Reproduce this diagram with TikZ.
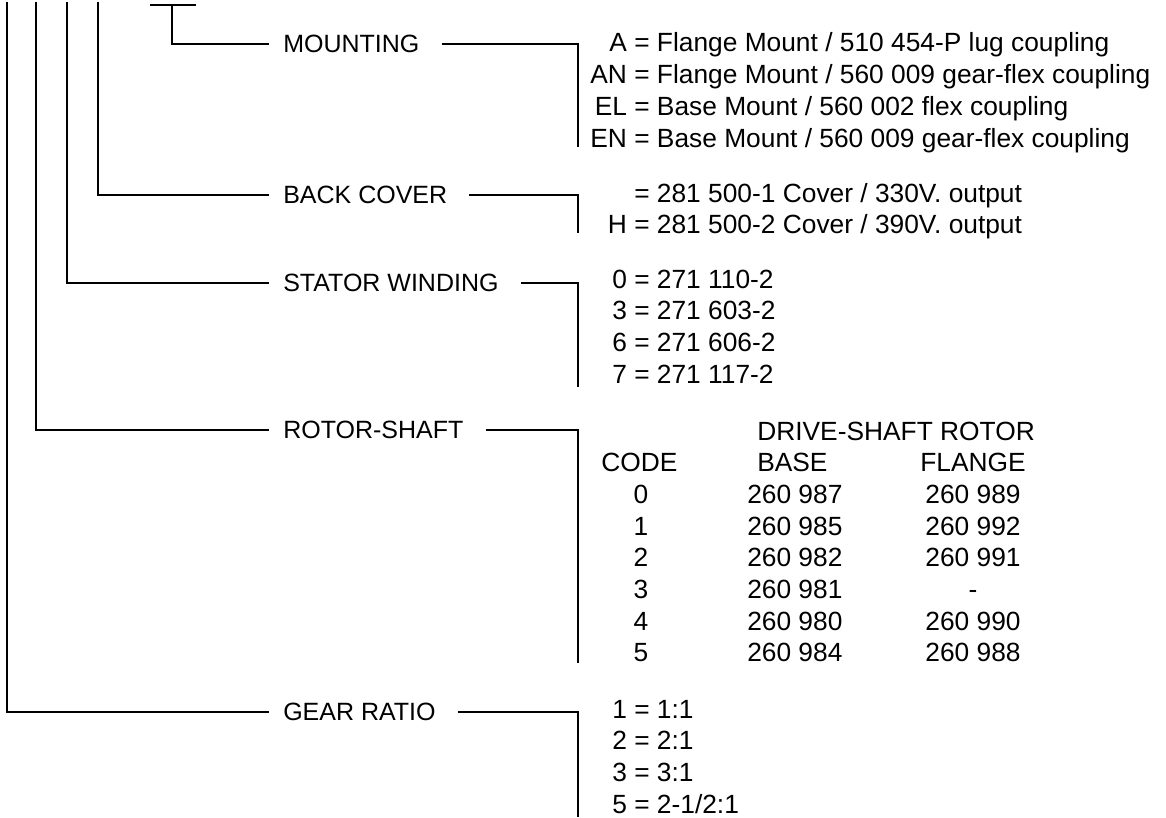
\documentclass[tikz,border=0pt]{standalone}
\usepackage{fontspec}
\setmainfont{Liberation Sans}
\usepackage{tikz}
\newcommand{\labsize}{\fontsize{18.75pt}{22pt}\selectfont}
\newcommand{\valsize}{\fontsize{19.75pt}{23pt}\selectfont}
\newcommand{\coderow}[2]{\llap{#1\ }= #2}

\begin{document}
\begin{tikzpicture}[x=0.75pt,y=-0.75pt,
  lbl/.style={anchor=west,inner sep=0pt,font=\labsize},
  val/.style={anchor=base west,inner sep=0pt,font=\valsize},
  num/.style={anchor=base,inner sep=0pt,font=\valsize},
  ln/.style={line width=1pt,black}
]
\useasboundingbox (0,0) rectangle (1166,817);

\node[lbl] (mnt) at (283,44) {MOUNTING};
\node[lbl] (bck) at (283,195) {BACK COVER};
\node[lbl] (sta) at (283,283) {STATOR WINDING};
\node[lbl] (rot) at (283,430) {ROTOR-SHAFT};
\node[lbl] (gear) at (283,712) {GEAR RATIO};

\coordinate (tL) at (150,5);
\coordinate (tR) at (196,5);
\coordinate (tMnt) at (172,5);
\coordinate (tBck) at (98,2);
\coordinate (tSta) at (67,2);
\coordinate (tRot) at (36,2);
\coordinate (tGear) at (7,2);

\coordinate (eMnt) at (578,147);
\coordinate (eBck) at (578,233);
\coordinate (eSta) at (578,387);
\coordinate (eRot) at (578,663);
\coordinate (eGear) at (578,817);

\draw[ln] (tL) -- (tR);
\draw[ln] (tMnt) |- ([xshift=-10.5pt]mnt.west);
\draw[ln] (tBck) |- ([xshift=-10.5pt]bck.west);
\draw[ln] (tSta) |- ([xshift=-10.5pt]sta.west);
\draw[ln] (tRot) |- ([xshift=-10.5pt]rot.west);
\draw[ln] (tGear) |- ([xshift=-10.5pt]gear.west);

\draw[ln] ([xshift=16.5pt]mnt.east) -| (eMnt);
\draw[ln] ([xshift=16.5pt]bck.east) -| (eBck);
\draw[ln] ([xshift=16.5pt]sta.east) -| (eSta);
\draw[ln] ([xshift=16.5pt]rot.east) -| (eRot);
\draw[ln] ([xshift=16.5pt]gear.east) -| (eGear);

\foreach \key/\txt [count=\i from 0] in {A/{Flange Mount / 510 454-P lug coupling},
    AN/{Flange Mount / 560 009 gear-flex coupling},
    EL/{Base Mount / 560 002 flex coupling},
    EN/{Base Mount / 560 009 gear-flex coupling}}
  \node[val] (m\i) at (634,52+31.7*\i) {\coderow{\key}{\txt}};

\node[val] (b0) at (634,202) {\coderow{}{281 500-1 Cover / 330V. output}};
\node[val] (b1) at (634,233) {\coderow{H}{281 500-2 Cover / 390V. output}};

\foreach \key/\txt [count=\i from 0] in {0/{271 110-2},3/{271 603-2},6/{271 606-2},7/{271 117-2}}
  \node[val] (s\i) at (634,288+31.7*\i) {\coderow{\key}{\txt}};

\node[val] (hdr) at (757,440) {DRIVE-SHAFT ROTOR};
\node[val] (hcode) at (601,471.6) {CODE};
\node[val] (hbase) at (757,471.6) {BASE};
\node[val] (hfl) at (920,471.6) {FLANGE};
\foreach \key/\bs/\fl [count=\i from 0] in {0/{260 987}/{260 989},1/{260 985}/{260 992},
    2/{260 982}/{260 991},3/{260 981}/{-},4/{260 980}/{260 990},5/{260 984}/{260 988}} {
  \node[num] (rc\i) at (641,503.3+31.7*\i) {\key};
  \node[val] (rb\i) at (747,503.3+31.7*\i) {\bs};
  \node[num] (rf\i) at (973,503.3+31.7*\i) {\fl};
}

\foreach \key/\txt [count=\i from 0] in {1/{1:1},2/{2:1},3/{3:1},5/{2-1/2:1}}
  \node[val] (g\i) at (634,718+31.7*\i) {\coderow{\key}{\txt}};
\end{tikzpicture}
\end{document}
